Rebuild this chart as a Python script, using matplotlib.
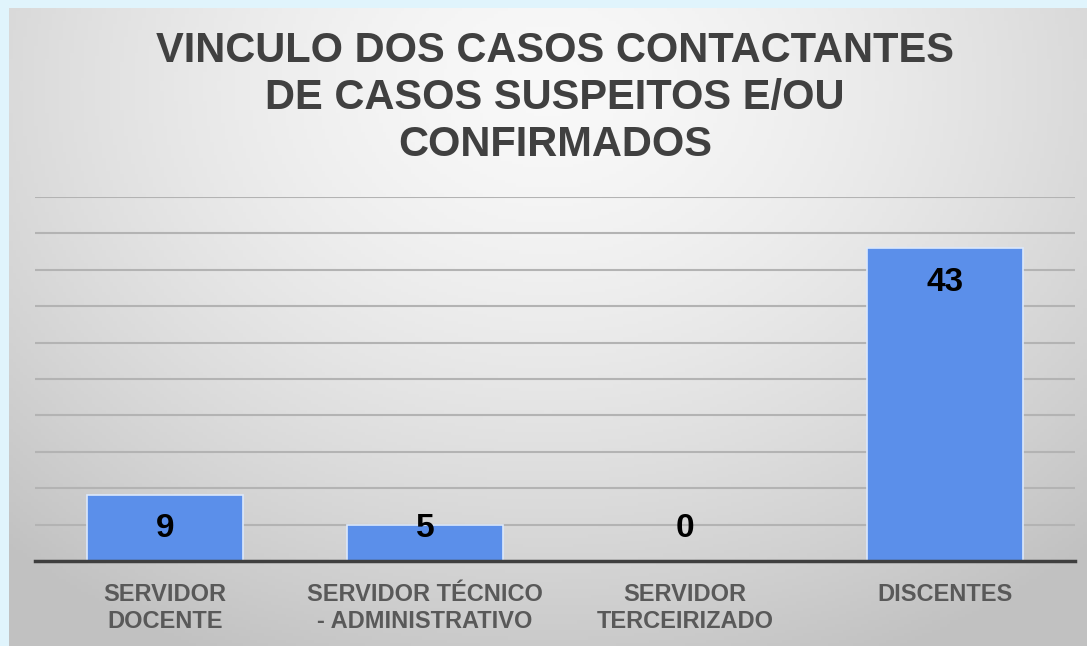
import numpy as np
import matplotlib.pyplot as plt

CATEGORIES = ["SERVIDOR\nDOCENTE", "SERVIDOR TÉCNICO\n- ADMINISTRATIVO",
              "SERVIDOR\nTERCEIRIZADO", "DISCENTES"]
VALUES = [9, 5, 0, 43]
TITLE = "VINCULO DOS CASOS CONTACTANTES\nDE CASOS SUSPEITOS E/OU\nCONFIRMADOS"

plt.rcParams["font.family"] = ["Liberation Sans", "DejaVu Sans"]

W, H = 1087, 646
fig = plt.figure(figsize=(W / 100, H / 100), dpi=100)
fig.patch.set_facecolor("#e0f4fc")

# gray panel with soft radial gradient
bg = fig.add_axes([9 / W, 0, 1 - 9 / W, 1 - 8 / H])
yy, xx = np.mgrid[0:1:200j, 0:1:300j]
r = np.sqrt(((xx - 0.5) / 0.75) ** 2 + ((yy - 0.12) / 1.0) ** 2)
shade = np.clip(0.975 - 0.22 * r ** 1.5, 0.76, 0.98)
bg.imshow(np.dstack([shade] * 3), aspect="auto", extent=[0, 1, 1, 0])
bg.set_axis_off()

ax = fig.add_axes([35 / W, 85 / H, 1040 / W, 364 / H])
ax.patch.set_alpha(0)
x = np.arange(len(VALUES))
ax.bar(x, VALUES, width=0.6, color="#5b8fea", edgecolor="#dce8fb", linewidth=1.2, zorder=3)
ax.set_xlim(-0.5, len(VALUES) - 0.5)
ax.set_ylim(0, 50)
ax.set_yticks(np.arange(0, 51, 5))
ax.grid(axis="y", color="#b3b3b3", linewidth=1.5, zorder=0)
ax.tick_params(left=False, labelleft=False, bottom=False)
for s in ["left", "right", "top"]:
    ax.spines[s].set_visible(False)
ax.spines["bottom"].set_color("#3f3f3f")
ax.spines["bottom"].set_linewidth(2.5)
ax.spines["bottom"].set_zorder(4)
ax.set_xticks(x)
ax.set_xticklabels(CATEGORIES, fontsize=17, fontweight="bold", color="#595959",
                   linespacing=1.25)
ax.tick_params(axis="x", pad=12)

for xi, v in zip(x, VALUES):
    ax.text(xi, max(v - 4.7, 4.5), str(v), ha="center", va="center",
            fontsize=24, fontweight="bold", color="black", zorder=5)

fig.text(555 / W, 1 - 98 / H, TITLE, ha="center", va="center", fontsize=30,
         fontweight="bold", color="#404040", linespacing=1.24)

fig.savefig("out.png", dpi=100, facecolor=fig.get_facecolor())
